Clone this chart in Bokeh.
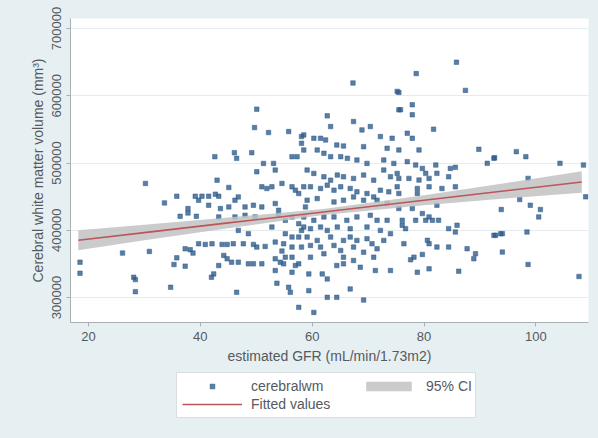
from bokeh.plotting import figure
from bokeh.layouts import column
from bokeh.models import Range1d, FixedTicker, Legend, LegendItem, NumeralTickFormatter
from bokeh.embed import file_html
from bokeh.resources import INLINE

# estimated GFR (mL/min/1.73m2) and cerebral white matter volume (mm3)
gfr = [
    30.2, 35.8, 39.1, 33.6, 37.8, 37.8, 36.4, 39.3, 18.5, 18.5, 26.1, 30.9, 37.3, 38.2, 38.7, 35.8, 35.3, 37.3, 28.1, 28.4, 28.4, 34.7,
    50.1, 49.7, 52.2, 55.8, 58.1, 58.1, 42.6, 46.1, 46.5, 49.2, 51.3, 53.1, 53.4, 50.1, 56.4, 57.3, 43.0, 45.1, 51.0, 51.9, 52.8, 54.6,
    56.4, 57.0, 57.6, 40.3, 41.5, 42.7, 43.3, 39.7, 41.5, 43.6, 45.1, 46.2, 46.8, 48.0, 49.5, 51.0, 53.4, 54.0, 43.3, 46.2, 48.0, 49.8,
    54.0, 55.2, 56.4, 57.6, 58.1, 46.8, 48.6, 52.8, 55.2, 56.4, 57.6, 39.7, 40.9, 42.1, 43.9, 44.8, 45.9, 47.7, 49.5, 50.1, 51.6, 53.4,
    54.9, 56.4, 54.6, 55.2, 56.4, 57.6, 58.1, 44.2, 44.8, 45.6, 46.8, 48.6, 49.5, 51.0, 53.4, 54.3, 54.9, 57.0, 43.3, 42.4, 42.0, 53.4,
    56.4, 53.7, 55.8, 56.1, 46.5, 57.6,
    67.3, 75.2, 75.5, 62.7, 67.4, 63.3, 68.9, 70.4, 58.5, 60.3, 61.5, 62.4, 72.2, 74.3, 64.4, 65.6, 69.2, 73.4, 58.5, 60.9, 62.1, 63.3,
    65.1, 66.3, 68.0, 69.8, 72.8, 74.6, 59.1, 60.3, 62.1, 63.3, 64.5, 65.6, 67.4, 69.2, 71.0, 72.8, 74.0, 75.2, 58.5, 59.7, 61.5, 62.7,
    63.9, 65.1, 66.8, 68.0, 69.8, 71.0, 72.2, 73.7, 75.2, 59.1, 60.9, 63.9, 65.6, 67.4, 69.2, 71.6, 73.4, 58.8, 58.5, 60.3, 62.1, 63.9,
    66.2, 68.0, 70.4, 71.6, 73.4, 58.5, 59.7, 61.5, 62.7, 64.5, 66.8, 69.8, 72.2, 74.0, 59.1, 60.9, 63.3, 65.6, 66.8, 68.0, 69.8, 70.7,
    72.8, 59.7, 61.5, 63.9, 65.1, 67.4, 69.2, 71.6, 59.7, 62.1, 65.6, 67.4, 71.0, 64.4, 65.6, 68.6, 71.3, 74.0, 59.4, 61.8, 62.7, 59.4,
    66.8, 62.7, 64.4, 69.2, 60.3,
    85.8, 78.6, 87.4, 75.5, 77.9, 77.9, 75.8, 81.7, 77.0, 77.9, 79.1, 89.8, 92.5, 91.3, 75.5, 77.0, 78.5, 79.7, 80.3, 80.9, 82.1, 82.3,
    84.4, 84.7, 85.6, 77.3, 79.1, 75.5, 78.8, 78.8, 80.9, 83.2, 85.6, 75.5, 75.5, 77.9, 79.7, 80.9, 80.3, 81.5, 82.6, 82.3, 76.1, 76.1,
    76.7, 78.5, 84.4, 85.9, 85.6, 76.4, 80.6, 80.9, 82.3, 84.4, 87.7, 89.2, 88.9, 77.6, 78.2, 79.7, 78.8, 80.9, 86.2, 92.5,
    96.5, 92.6, 98.2, 104.3, 108.5, 98.6, 108.9, 97.1, 99.0, 100.8, 100.5, 93.8, 92.8, 93.7, 94.0, 98.4, 94.0, 98.6, 107.7,
]
volume = [
    469600, 450600, 450600, 440700, 432200, 425700, 420800, 420800, 352500, 336100, 366000, 368500, 372400, 371000, 366000, 359000,
    349000, 346600, 330100, 326600, 308700, 315200,
    580100, 552700, 545300, 546800, 539300, 529300, 509400, 515400, 506900, 515400, 499400, 499400, 489500, 487000, 509400, 509400,
    474500, 463600, 464600, 462100, 464600, 469600, 464600, 459600, 454600, 450600, 450600, 453600, 450600, 444700, 437200, 432200,
    434700, 444700, 449600, 434700, 437200, 434700, 439700, 429700, 419800, 419800, 422200, 419800, 422200, 414800, 419800, 409800,
    399800, 399800, 394900, 404800, 394900, 389900, 389900, 379900, 378900, 379900, 378900, 378900, 379900, 379900, 378900, 374900,
    375900, 382400, 379900, 374900, 369000, 360000, 360000, 350000, 374900, 362500, 357500, 352500, 352500, 350000, 350000, 350000,
    357500, 352500, 350000, 347500, 347500, 335100, 330100, 340100, 337600, 321200, 315200, 307700, 307700, 285300,
    619000, 606500, 579100, 570100, 561700, 554200, 549200, 554200, 541800, 536800, 536800, 534300, 539300, 536800, 526800, 525300,
    524300, 521800, 519300, 519300, 514400, 509400, 509400, 506900, 504400, 499400, 504400, 499400, 489500, 484500, 479500, 474500,
    482000, 479500, 477000, 482000, 474500, 489500, 479500, 484500, 464600, 464600, 462100, 467000, 459600, 464600, 462100, 457100,
    454600, 449600, 459600, 457100, 464600, 444700, 447100, 442100, 444700, 449600, 444700, 444700, 439700, 434700, 419800, 414800,
    419800, 419800, 414800, 419800, 422200, 414800, 414800, 404800, 402300, 404800, 399800, 404800, 402300, 404800, 399800, 394900,
    389900, 384900, 389900, 384900, 389900, 384900, 387400, 379900, 384900, 377400, 374900, 377400, 369900, 374900, 367400, 372400,
    360000, 365000, 360000, 355000, 360000, 347500, 350000, 345000, 340100, 340100, 335100, 335100, 327600, 310200, 312700, 300200,
    300200, 296200, 277800,
    649900, 633000, 608000, 605000, 586600, 571700, 579200, 550300, 544300, 536800, 519400, 520400, 507000, 499500, 519400, 502000,
    497000, 492000, 484600, 477100, 497000, 484600, 479500, 492000, 493500, 477100, 474600, 477100, 462100, 454700, 464600, 462100,
    464600, 454700, 432300, 432300, 424800, 419800, 414800, 414800, 414800, 437200, 414800, 407400, 402400, 414800, 402400, 407400,
    397400, 380000, 385000, 380000, 375000, 375000, 372500, 365000, 357600, 356100, 360000, 364000, 337600, 342600, 339100, 392400,
    516900, 507900, 509400, 499500, 497000, 477100, 449700, 445700, 437200, 430800, 419800, 430800, 392400, 394900, 394900, 397400,
    367500, 349100, 331200,
]

# fitted values and 95% CI
fit_gfr = [18.2, 30, 45, 62, 80, 95, 108.2]
fit_vol = [385100, 396500, 410900, 427200, 444600, 459000, 471700]
ci_lower = [370100, 385000, 402900, 422700, 437100, 447500, 455700]
ci_upper = [400100, 408000, 418900, 431700, 452100, 470500, 487700]

x_ticks = [20, 40, 60, 80, 100]
y_ticks = [300000, 400000, 500000, 600000, 700000]
series_labels = ["cerebralwm", "95% CI", "Fitted values"]

FONT = "Liberation Sans"
TXT = "#555a5e"
BG = "#e6eff2"
PT = dict(marker="square", size=4.5, fill_color="#2f5d8c", fill_alpha=0.8, line_color="#2f5d8c", line_alpha=0.5)
BAND = dict(fill_color="#c2c2c2", fill_alpha=0.85)
FIT = dict(line_color="#b9575b", line_width=1.6)

p = figure(width=598, height=368, output_backend="svg", toolbar_location=None,
           x_range=Range1d(16.8, 109.4), y_range=Range1d(262800, 714900),
           min_border_left=70, min_border_right=10, min_border_top=18, min_border_bottom=46)
p.background_fill_color = "white"
p.border_fill_color = BG
p.outline_line_color = None

p.scatter(gfr, volume, **PT)
p.varea(x=fit_gfr, y1=ci_lower, y2=ci_upper, **BAND)
p.line(fit_gfr, fit_vol, **FIT)

p.xgrid.visible = False
p.ygrid.grid_line_color = "#e3ebee"
p.ygrid.ticker = FixedTicker(ticks=y_ticks)

p.xaxis.ticker = FixedTicker(ticks=x_ticks)
p.yaxis.ticker = FixedTicker(ticks=y_ticks)
p.yaxis.formatter = NumeralTickFormatter(format="0")
p.yaxis.major_label_orientation = "vertical"
p.xaxis.axis_label = "estimated GFR (mL/min/1.73m2)"
p.yaxis.axis_label = "Cerebral white matter volume (mm³)"
for ax in (p.xaxis, p.yaxis):
    ax.axis_line_color = "#a9b0b3"
    ax.major_tick_line_color = "#a9b0b3"
    ax.major_tick_out = 4
    ax.major_tick_in = 0
    ax.minor_tick_line_color = None
    ax.major_label_text_font = FONT
    ax.major_label_text_font_size = "13px"
    ax.major_label_text_color = TXT
    ax.axis_label_text_font = FONT
    ax.axis_label_text_font_size = "14px"
    ax.axis_label_text_font_style = "normal"
    ax.axis_label_text_color = TXT
    ax.major_label_standoff = 5
    ax.axis_label_standoff = 4

# legend panel below the plot; its key glyphs use the same styles (keys placed outside the visible range)
lg = figure(width=598, height=70, output_backend="svg", toolbar_location=None,
            x_range=Range1d(0, 1), y_range=Range1d(0, 1),
            x_axis_location=None, y_axis_location=None,
            min_border_left=70, min_border_right=10, min_border_top=0, min_border_bottom=0)
lg.grid.visible = False
lg.outline_line_color = None
lg.background_fill_color = BG
lg.border_fill_color = BG
k_pts = lg.scatter([-5], [-5], **PT)
k_band = lg.varea(x=[-6, -5], y1=[-6, -6], y2=[-5, -5], **BAND)
k_fit = lg.line([-6, -5], [-5, -5], **FIT)

common = dict(glyph_height=12, label_standoff=9, spacing=2,
              label_text_font=FONT, label_text_font_size="14px", label_text_color=TXT)
legend_a = Legend(items=[
    LegendItem(label=series_labels[0], renderers=[k_pts]),
    LegendItem(label=series_labels[2], renderers=[k_fit]),
], orientation="vertical", location=(106, 20), padding=5, label_width=219, glyph_width=60,
    border_line_color="#b8bec1", background_fill_color="white", background_fill_alpha=1.0, **common)
legend_b = Legend(items=[
    LegendItem(label=series_labels[1], renderers=[k_band]),
], orientation="vertical", location=(290, 44), padding=0, glyph_width=57,
    border_line_color=None, background_fill_alpha=0.0, **common)
lg.add_layout(legend_a)
lg.add_layout(legend_b)

layout = column(p, lg, spacing=0, styles={"background-color": BG})
open("out.html", "w").write(file_html(layout, INLINE))
